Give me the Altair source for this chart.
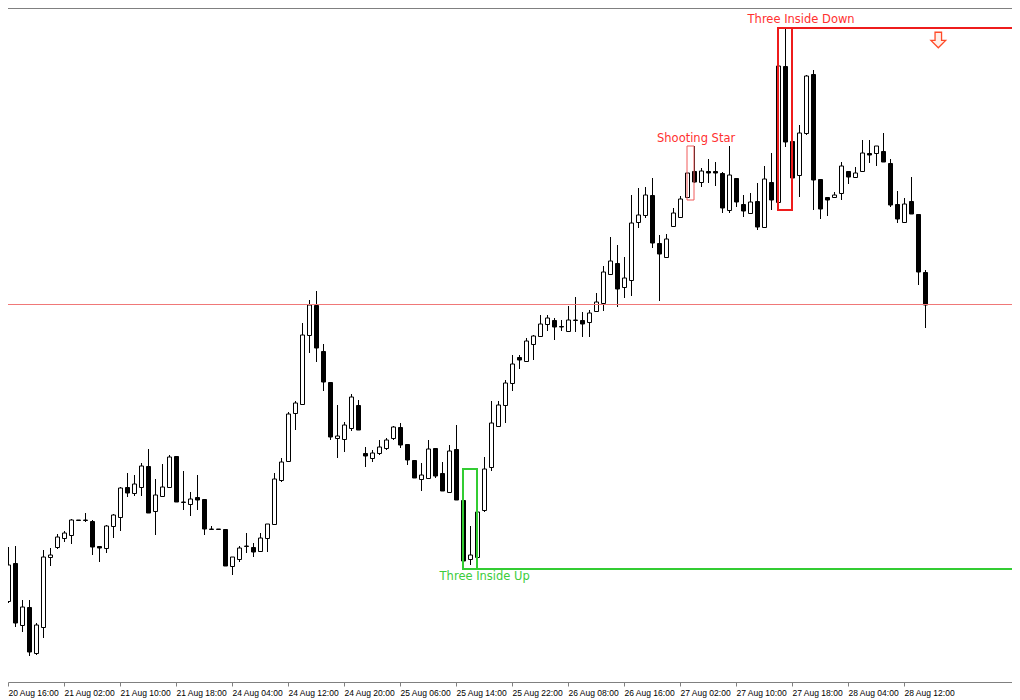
import altair as alt
import pandas as pd

# x-axis tick labels (one every 8 hourly bars, starting at bar 0)
tick_labels = ["20 Aug 16:00", "21 Aug 02:00", "21 Aug 10:00", "21 Aug 18:00",
               "24 Aug 04:00", "24 Aug 12:00", "24 Aug 20:00", "25 Aug 06:00",
               "25 Aug 14:00", "25 Aug 22:00", "26 Aug 08:00", "26 Aug 16:00",
               "27 Aug 02:00", "27 Aug 10:00", "27 Aug 18:00", "28 Aug 04:00",
               "28 Aug 12:00"]
first_bar = -1

# OHLC in points (bars -1 .. 131)
opens = [158, 99, 137, 75, 93, 47, 73, 143, 153, 162, 165, 180, 180, 179, 154, 152, 174, 183, 213, 207,
         213, 234, 189, 204, 213, 244, 198, 196, 203, 201, 171, 171, 171, 134, 141, 154, 153, 149, 162, 176,
         220, 239, 287, 296, 365, 395, 349, 318, 262, 261, 272, 295, 247, 242, 247, 252, 262, 273, 256, 240,
         221, 222, 252, 227, 208, 251, 200, 141, 143, 190, 233, 274, 295, 317, 343, 339, 356, 364, 376, 380,
         374, 369, 380, 380, 378, 389, 397, 426, 437, 413, 420, 478, 485, 505, 457, 443, 474, 483, 503, 529,
         518, 529, 529, 527, 490, 522, 496, 487, 499, 473, 518, 498, 634, 559, 525, 567, 626, 521, 503, 503,
         507, 529, 523, 529, 547, 547, 549, 537, 496, 478, 499, 486, 428]
highs = [160, 153, 154, 100, 100, 77, 150, 152, 166, 169, 181, 180, 187, 180, 154, 175, 186, 213, 227, 225,
         237, 251, 221, 236, 245, 244, 229, 208, 225, 201, 174, 171, 171, 143, 154, 167, 157, 167, 176, 227,
         242, 288, 299, 377, 400, 409, 356, 318, 295, 278, 306, 300, 253, 250, 260, 262, 274, 277, 256, 240,
         237, 260, 252, 238, 255, 275, 200, 174, 193, 243, 299, 299, 320, 345, 345, 362, 365, 385, 385, 382,
         380, 394, 403, 388, 390, 407, 434, 463, 455, 443, 505, 512, 513, 522, 465, 466, 492, 504, 527, 554,
         532, 541, 538, 528, 554, 522, 505, 507, 517, 534, 547, 638, 672, 567, 575, 625, 630, 521, 503, 508,
         538, 529, 533, 560, 560, 554, 567, 541, 509, 502, 523, 486, 430]
lows = [96, 97, 73, 68, 44, 45, 62, 134, 151, 158, 156, 180, 178, 145, 138, 147, 162, 169, 203, 204,
        204, 187, 165, 203, 212, 198, 190, 184, 190, 165, 171, 171, 134, 125, 138, 147, 143, 149, 148, 176,
        218, 239, 270, 296, 347, 338, 309, 260, 242, 248, 269, 270, 233, 238, 245, 250, 260, 252, 235, 222,
        209, 222, 222, 209, 208, 200, 138, 135, 143, 188, 229, 273, 277, 309, 331, 339, 340, 363, 369, 360,
        369, 368, 368, 363, 363, 389, 389, 426, 393, 402, 404, 472, 482, 452, 399, 443, 473, 483, 503, 517,
        513, 517, 514, 487, 487, 493, 483, 487, 470, 473, 490, 498, 553, 518, 503, 565, 490, 481, 484, 502,
        500, 516, 523, 529, 537, 534, 538, 493, 477, 478, 486, 415, 372]
closes = [101, 135, 77, 93, 48, 75, 143, 145, 163, 167, 180, 180, 180, 153, 152, 174, 185, 212, 207, 216,
          234, 187, 205, 213, 243, 198, 198, 201, 200, 171, 171, 171, 134, 143, 152, 154, 148, 162, 176, 221,
          238, 286, 297, 365, 395, 352, 318, 263, 264, 275, 303, 270, 244, 247, 253, 260, 273, 255, 240, 222,
          225, 251, 224, 209, 249, 200, 139, 145, 188, 231, 277, 295, 317, 336, 340, 359, 364, 376, 382, 373,
          373, 380, 380, 376, 387, 398, 428, 439, 411, 422, 477, 485, 505, 457, 446, 461, 487, 501, 527, 518,
          529, 527, 527, 492, 525, 498, 489, 498, 473, 521, 500, 634, 558, 522, 567, 624, 520, 491, 500, 505,
          534, 523, 527, 547, 545, 554, 538, 495, 481, 496, 486, 428, 395]

# reference levels / pattern boxes
top_price = 692
level_price = 396
box_labels = ["Three Inside Up", "Shooting Star", "Three Inside Down"]
box_start = [65, 97, 110]
box_end = [67, 98, 112]
box_low = [131, 500, 490]
box_high = [231, 554, 672]
box_colors = ["#33cc33", "#f05a5a", "#ee1c1c"]
box_widths = [2, 1, 2]
ext_start = [65, 110]
ext_price = [131, 672]
ext_colors = ["#33cc33", "#ee1c1c"]
label_x = [68.1, 98.3, 113.3]
label_y = [123, 561, 680]
label_colors = ["#3ccc3c", "#ff3030", "#ff3030"]
arrow_x = [132.9]
arrow_y = [660]

WIDTH = 1004
HEIGHT = 674
BAR_PX = 7
XMAX = WIDTH / BAR_PX

n = len(opens)
candles = pd.DataFrame({
    "bar": list(range(first_bar, first_bar + n)),
    "open": opens, "high": highs, "low": lows, "close": closes,
})

xscale = alt.Scale(domain=[0, XMAX], nice=False, zero=False, padding=0)
yscale = alt.Scale(domain=[18, 692], nice=False, zero=False, padding=0)

label_expr = "[" + ",".join("'" + t + "'" for t in tick_labels) + "][floor(datum.value / 8)]"
xaxis = alt.Axis(values=[8 * k for k in range(len(tick_labels))], labelExpr=label_expr,
                 title=None, grid=False, labelAlign="left", labelBaseline="top",
                 labelFont="Liberation Sans", labelFontSize=8.5, labelColor="black",
                 tickColor="#808080", domainColor="#808080", tickSize=4, labelPadding=2,
                 labelFlush=False, labelOverlap=False)

base = alt.Chart(candles)

wicks = base.mark_rule(color="black", strokeWidth=1, clip=True, xOffset=0.5).encode(
    x=alt.X("bar:Q", scale=xscale, axis=xaxis),
    y=alt.Y("low:Q", scale=yscale, axis=None),
    y2="high:Q",
)
bodies = base.mark_bar(size=4, stroke="black", strokeWidth=1, clip=True,
                       xOffset=0.5, yOffset=0.5).encode(
    x=alt.X("bar:Q"),
    y=alt.Y("open:Q"),
    y2="close:Q",
    fill=alt.condition("datum.close >= datum.open", alt.value("white"), alt.value("black")),
)

hlines = pd.DataFrame({"s": [0, 0] + ext_start, "e": [XMAX] * 4,
                       "p": [top_price, level_price] + ext_price,
                       "c": ["#808080", "#f07878"] + ext_colors,
                       "w": [1, 1, 2, 2]})
thin_lines = alt.Chart(hlines).transform_filter("datum.w == 1").mark_rule(
    strokeWidth=1, clip=True, yOffset=0.5).encode(
    x="s:Q", x2="e:Q", y="p:Q", color=alt.Color("c:N", scale=None),
)
thick_lines = alt.Chart(hlines).transform_filter("datum.w == 2").mark_rule(strokeWidth=2, clip=True).encode(
    x="s:Q", x2="e:Q", y="p:Q", color=alt.Color("c:N", scale=None),
)

box_df = pd.DataFrame({"name": box_labels, "x1": box_start, "x2": box_end,
                       "y1": box_low, "y2": box_high, "c": box_colors, "w": box_widths})
boxes_thick = alt.Chart(box_df).transform_filter("datum.w == 2").mark_rect(
    fillOpacity=0, strokeWidth=2, clip=True).encode(
    x="x1:Q", x2="x2:Q", y="y1:Q", y2="y2:Q", stroke=alt.Stroke("c:N", scale=None),
)
boxes_thin = alt.Chart(box_df).transform_filter("datum.w == 1").mark_rect(
    fillOpacity=0, strokeWidth=1, clip=True).encode(
    x="x1:Q", x2="x2:Q", y="y1:Q", y2="y2:Q", stroke=alt.Stroke("c:N", scale=None),
)

lab_df = pd.DataFrame({"t": box_labels, "x": label_x, "y": label_y, "c": label_colors})
labels = alt.Chart(lab_df).mark_text(font="DejaVu Sans", fontSize=11.5, align="center",
                                     baseline="middle").encode(
    x="x:Q", y="y:Q", text="t:N", color=alt.Color("c:N", scale=None),
)

arrow_path = "M -0.42 -1 L 0.42 -1 L 0.42 0.05 L 0.95 0.05 L 0 1 L -0.95 0.05 L -0.42 0.05 Z"
arrow = alt.Chart(pd.DataFrame({"x": arrow_x, "y": arrow_y})).mark_point(
    shape=arrow_path, size=240, filled=True, fill="#fff0ea", stroke="#ff4a28", strokeWidth=1.3,
    opacity=1).encode(x="x:Q", y="y:Q")

chart = alt.layer(wicks, bodies, thin_lines, thick_lines, boxes_thick, boxes_thin, labels, arrow).properties(
    width=WIDTH, height=HEIGHT,
    autosize=alt.AutoSizeParams(type="none"),
    padding={"left": 0, "top": 0, "right": 0, "bottom": 18},
    background="white",
).configure_view(stroke=None)

chart.save("out.html", embed_options={"renderer": "svg", "actions": False})
